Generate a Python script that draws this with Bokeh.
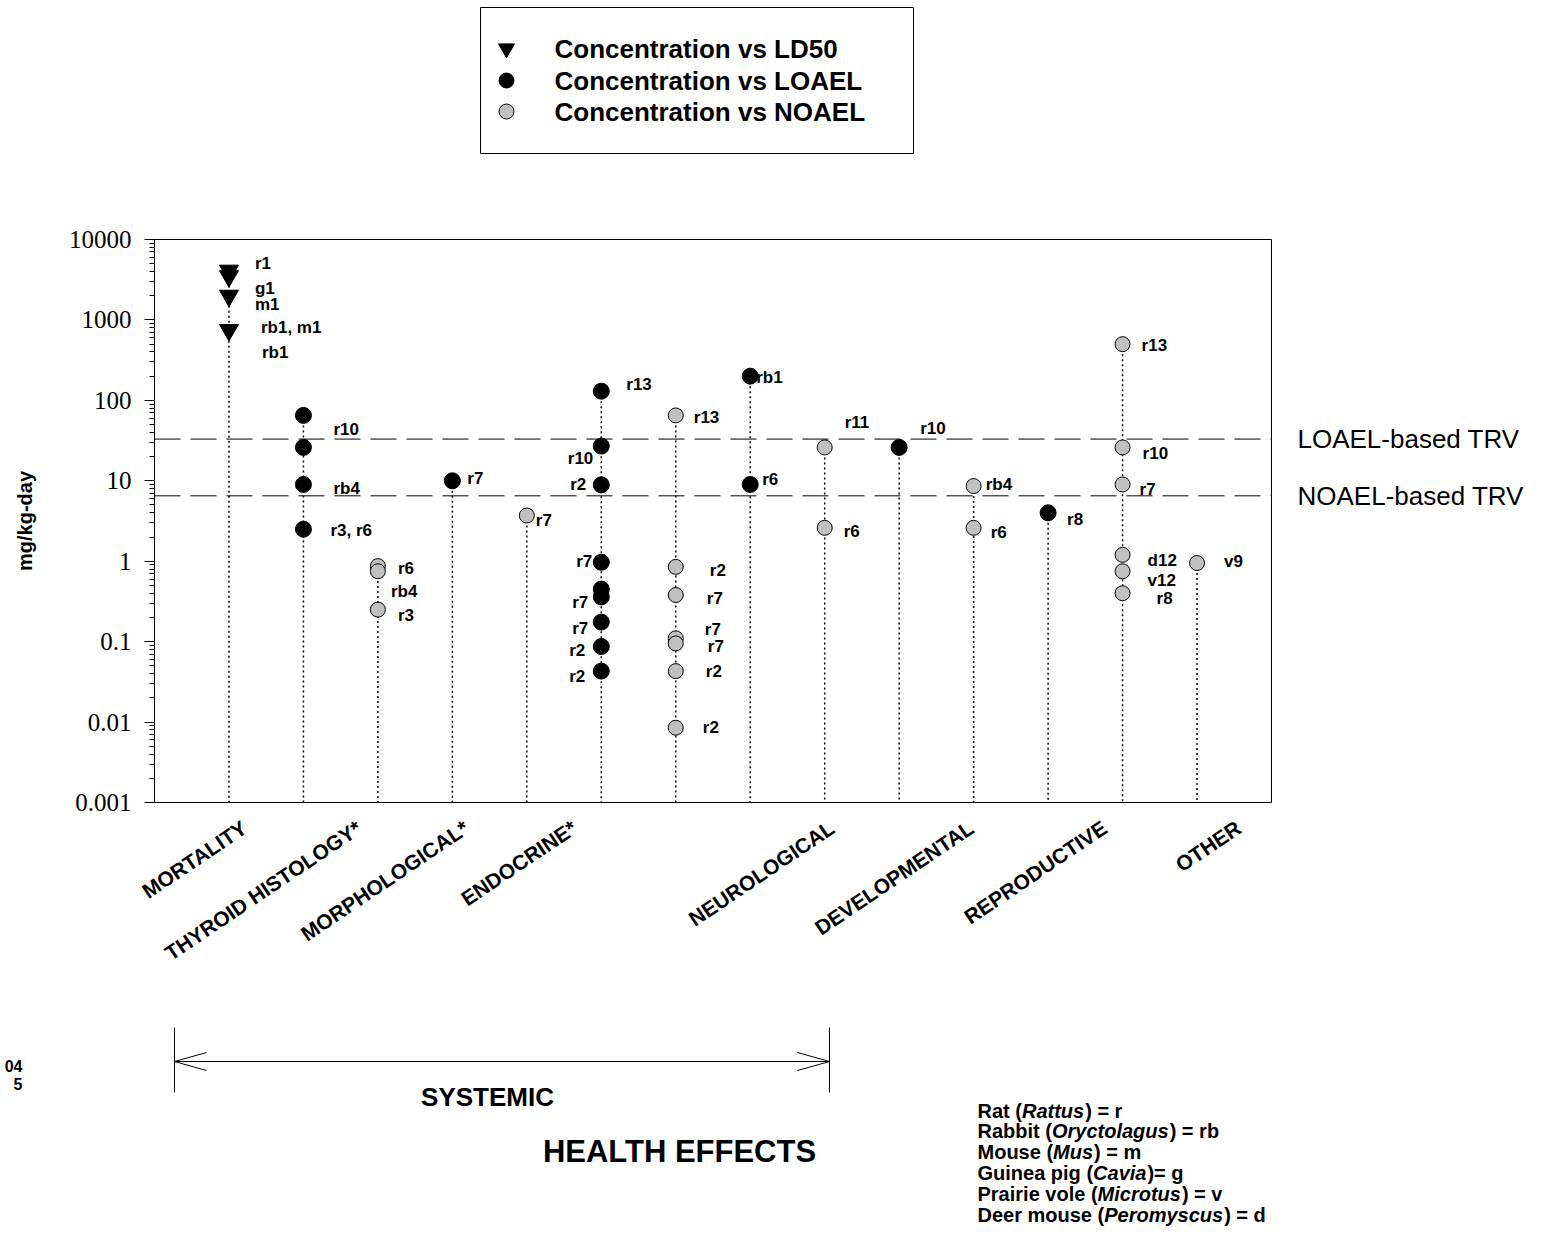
import math
from bokeh.plotting import figure
from bokeh.layouts import column
from bokeh.models import (Range1d, FixedTicker, Span, LinearAxis, ColumnDataSource)
from bokeh.core.properties import value
from bokeh.embed import file_html
from bokeh.resources import INLINE

# ------------------------------------------------------------------ data
effect_labels = ["MORTALITY", "THYROID HISTOLOGY*", "MORPHOLOGICAL*", "ENDOCRINE*",
                 "NEUROLOGICAL", "DEVELOPMENTAL", "REPRODUCTIVE", "OTHER"]
series_names = ["Concentration vs LD50", "Concentration vs LOAEL", "Concentration vs NOAEL"]

# Concentration vs LD50 (column 1 = mortality)
ld50_x = [1, 1, 1, 1]
ld50_y = [4100, 3500, 2000, 750]

# Concentration vs LOAEL
loael_x = [2, 2, 2, 2, 4, 6, 6, 6, 6, 6, 6, 6, 6, 6, 8, 8, 10, 12]
loael_y = [65, 26, 9, 2.5, 10, 130, 27, 8.9, 0.97, 0.45, 0.36, 0.175, 0.087, 0.043,
           200, 9, 26, 4]

# Concentration vs NOAEL
noael_x = [3, 3, 3, 5, 7, 7, 7, 7, 7, 7, 7, 9, 9, 11, 11, 13, 13, 13, 13, 13, 13, 14]
noael_y = [0.87, 0.75, 0.25, 3.7, 65, 0.85, 0.38, 0.11, 0.095, 0.043, 0.0085,
           26, 2.6, 8.6, 2.6, 500, 26, 9, 1.2, 0.75, 0.4, 0.95]

loael_trv = 33
noael_trv = 6.5
trv_labels = ["LOAEL-based TRV", "NOAEL-based TRV"]

y_ticks = [0.001, 0.01, 0.1, 1, 10, 100, 1000, 10000]
y_tick_labels = ["0.001", "0.01", "0.1", "1", "10", "100", "1000", "10000"]

# species codes shown next to the points
lab_text = ["r1", "g1", "m1", "rb1, m1", "rb1",
            "r10", "rb4", "r3, r6",
            "r6", "rb4", "r3",
            "r7", "r7",
            "r13", "r10", "r2", "r7", "r7", "r7", "r2", "r2",
            "r13", "r2", "r7", "r7", "r7", "r2", "r2",
            "rb1", "r6", "r11", "r6", "r10", "rb4", "r6", "r8",
            "r13", "r10", "r7", "d12", "v12", "r8", "v9"]
lab_col = [1] * 5 + [2] * 3 + [3] * 3 + [4, 5] + [6] * 8 + [7] * 7 + \
          [8, 8, 9, 9, 10, 11, 11, 12] + [13] * 6 + [14]

species_names = ["Rat", "Rabbit", "Mouse", "Guinea pig", "Prairie vole", "Deer mouse"]
species_genus = ["Rattus", "Oryctolagus", "Mus", "Cavia", "Microtus", "Peromyscus"]
species_codes = ["r", "rb", "m", "g", "v", "d"]
margin_notes = ["04", "5"]

# ------------------------------------------------------------------ layout
FONT = "Liberation Sans"
W = 1552
FL, FR, FT, FB = 154, 1271, 239, 802   # frame edges on the page
TOP_H = 200                            # header strip (legend)
MAIN_H = 802                           # main chart, page rows 200..1002
BOT_Y0 = TOP_H + MAIN_H
PAGE_H = 1239
X_START, X_END = 0, 15
Y_START, Y_END = 1e-3, 1e4
GRAY = "#c0c0c0"


def px_x(px):
    return X_START + (px - FL) / (FR - FL) * (X_END - X_START)


def px_y(py):
    lo, hi = math.log10(Y_START), math.log10(Y_END)
    return 10 ** (hi - (py - FT) / (FB - FT) * (hi - lo))


# label placement: page-pixel height of each code label and x offset from its column
lab_ypx = [263, 288, 304, 327, 352,
           429, 488, 530,
           568, 591, 615,
           478, 520,
           384, 458, 484, 561, 602, 628, 650, 676,
           417, 570, 598, 629, 646, 671, 727,
           377, 479, 422, 531, 428, 484, 532, 519,
           345, 453, 489, 560, 580, 598, 561]
lab_dx = [26, 26, 26, 32, 33,
          30, 30, 27,
          20, 13, 20,
          15, 9,
          25, -8, -15, -9, -13, -13, -16, -16,
          18, 34, 31, 29, 32, 30, 27,
          6, 12, 20, 19, 21, 12, 17, 19,
          19, 20, 17, 25, 25, 34, 27]
# where each rotated category name ends (page px)
cat_end_px = [244, 359, 466, 574, 832, 971, 1104, 1238]


def strip(height, y0):
    """A strip whose frame lines up with the chart and whose data units are page pixels."""
    f = figure(width=W, height=height, x_range=Range1d(FL, FR),
               y_range=Range1d(y0 + height, y0), output_backend="svg",
               toolbar_location=None, x_axis_location=None, y_axis_location=None,
               min_border_left=FL, min_border_right=W - FR,
               min_border_top=0, min_border_bottom=0)
    f.grid.visible = False
    f.outline_line_color = None
    f.background_fill_color = "white"
    f.border_fill_color = "white"
    return f


# ------------------------------------------------------------------ header / legend
top = strip(TOP_H, 0)
top.quad(left=[480], right=[913], top=[7], bottom=[153], fill_color=None,
         line_color="black", line_width=1)
leg_y = [48, 80, 111]
top.scatter([506], [leg_y[0]], marker="inverted_triangle", size=16,
            fill_color="black", line_color="black")
top.scatter([506], [leg_y[1]], marker="circle", size=15,
            fill_color="black", line_color="black")
top.scatter([506], [leg_y[2]], marker="circle", size=15,
            fill_color=GRAY, line_color="black", line_width=1)
top.text(x=[554] * 3, y=leg_y, text=series_names, text_baseline="middle",
         text_align="left", text_font=value(FONT), text_font_style="bold",
         text_font_size="26px", text_color="black")

# ------------------------------------------------------------------ main chart
p = figure(width=W, height=MAIN_H, y_axis_type="log",
           x_range=Range1d(X_START, X_END), y_range=Range1d(Y_START, Y_END),
           output_backend="svg", toolbar_location=None,
           min_border_left=FL, min_border_top=FT - TOP_H,
           min_border_right=W - FR, min_border_bottom=MAIN_H - (FB - TOP_H))
p.xgrid.visible = False
p.ygrid.visible = False
p.outline_line_color = "black"
p.outline_line_alpha = 1
p.outline_line_width = 1
p.background_fill_color = "white"
p.border_fill_color = "white"

# category names on the x axis, rotated
cat_ticks = [round(px_x(v), 2) for v in cat_end_px]
xax = p.xaxis[0]
xax.ticker = FixedTicker(ticks=cat_ticks, minor_ticks=[])
xax.major_label_overrides = {t: s for t, s in zip(cat_ticks, effect_labels)}
xax.major_label_orientation = math.radians(34)
xax.major_label_standoff = 23
xax.major_label_text_font = FONT
xax.major_label_text_font_style = "bold"
xax.major_label_text_font_size = "21px"
xax.major_label_text_color = "black"
xax.axis_line_color = None
xax.major_tick_line_color = None
xax.minor_tick_line_color = None
xax.major_tick_out = 0
xax.major_tick_in = 0

yax = p.yaxis[0]
minor = [m * 10.0 ** d for d in range(-3, 4) for m in range(2, 10)]
yax.ticker = FixedTicker(ticks=y_ticks, minor_ticks=minor)
yax.major_label_overrides = {t: s for t, s in zip(y_ticks, y_tick_labels)}
yax.major_label_text_font = "Liberation Serif"
yax.major_label_text_font_size = "25px"
yax.major_label_text_color = "black"
yax.major_tick_out = 10
yax.major_tick_in = 0
yax.minor_tick_out = 5
yax.minor_tick_in = 0
yax.major_label_standoff = 13
yax.axis_line_color = "black"
yax.major_tick_line_color = "black"
yax.minor_tick_line_color = "black"
yax.axis_label = "mg/kg-day"
yax.axis_label_text_font = FONT
yax.axis_label_text_font_style = "bold"
yax.axis_label_text_font_size = "20px"
yax.axis_label_text_color = "black"
yax.axis_label_standoff = 30

# TRV lines and their names on the right
for v in (loael_trv, noael_trv):
    p.add_layout(Span(location=v, dimension="width", line_color="black",
                      line_width=1, line_dash="26 10"))
rax = LinearAxis(ticker=FixedTicker(ticks=[loael_trv, noael_trv], minor_ticks=[]),
                 major_label_overrides={loael_trv: trv_labels[0], noael_trv: trv_labels[1]},
                 axis_line_color=None, major_tick_line_color=None,
                 minor_tick_line_color=None, major_tick_out=0, major_tick_in=0,
                 major_label_standoff=26, major_label_text_font=FONT,
                 major_label_text_font_size="26px", major_label_text_color="black")
p.add_layout(rax, "right")

# dotted drop lines from the highest value of each column down to the axis
tops = {}
for xs, ys in ((ld50_x, ld50_y), (loael_x, loael_y), (noael_x, noael_y)):
    for x, y in zip(xs, ys):
        tops[x] = max(tops.get(x, 0), y)
cols = sorted(tops)
p.segment(x0=cols, y0=[tops[c] for c in cols], x1=cols, y1=[Y_START] * len(cols),
          line_color="black", line_width=1.5, line_dash="2 3")

p.scatter(ld50_x, ld50_y, marker="inverted_triangle", size=19,
          fill_color="black", line_color="black")
p.scatter(loael_x, loael_y, marker="circle", size=16,
          fill_color="black", line_color="black")
p.scatter(noael_x, noael_y, marker="circle", size=15,
          fill_color=GRAY, line_color="black", line_width=1)

ld = {"x": [], "y": [], "t": [], "dx": []}
rd = {"x": [], "y": [], "t": [], "dx": []}
for t, c, ypx, dx in zip(lab_text, lab_col, lab_ypx, lab_dx):
    d = ld if dx >= 0 else rd
    d["x"].append(c)
    d["y"].append(px_y(ypx))
    d["t"].append(t)
    d["dx"].append(dx)
for d, align in ((ld, "left"), (rd, "right")):
    p.text(x="x", y="y", text="t", x_offset="dx", source=ColumnDataSource(d),
           text_align=align, text_baseline="middle",
           text_font=value(FONT), text_font_style="bold",
           text_font_size="17px", text_color="black")

# ------------------------------------------------------------------ footer
bot = strip(PAGE_H - BOT_Y0, BOT_Y0)

# margin note at the far left, shown through the strip's left axis
note_y = [1065, 1083]
lax = LinearAxis(ticker=FixedTicker(ticks=note_y, minor_ticks=[]),
                 major_label_overrides={k: s for k, s in zip(note_y, margin_notes)},
                 axis_line_color=None, major_tick_line_color=None,
                 minor_tick_line_color=None, major_tick_out=0, major_tick_in=0,
                 major_label_standoff=132, major_label_text_font=FONT,
                 major_label_text_font_style="bold",
                 major_label_text_font_size="16px", major_label_text_color="black")
bot.add_layout(lax, "left")

# SYSTEMIC bracket
bot.segment(x0=[174, 174, 829, 174, 174, 829, 829],
            y0=[1061, 1027, 1027, 1061, 1061, 1061, 1061],
            x1=[829, 174, 829, 206, 206, 797, 797],
            y1=[1061, 1092, 1092, 1052, 1070, 1052, 1070],
            line_color="black", line_width=1)
bot.text(x=[487], y=[1096], text=["SYSTEMIC"], text_align="center",
         text_baseline="middle", text_font=value(FONT), text_font_style="bold",
         text_font_size="26px", text_color="black")
bot.text(x=[679], y=[1151], text=["HEALTH EFFECTS"], text_align="center",
         text_baseline="middle", text_font=value(FONT), text_font_style="bold",
         text_font_size="31px", text_color="black")

# species key (bold text with italic genus names)
HB = {' ': 278, '(': 333, ')': 333, '=': 584, 'a': 556, 'b': 611, 'c': 556, 'd': 611,
      'e': 556, 'g': 611, 'i': 278, 'l': 278, 'm': 889, 'n': 611, 'o': 611, 'p': 611,
      'r': 389, 's': 556, 't': 333, 'u': 611, 'v': 556, 'y': 556, 'C': 722, 'D': 722,
      'G': 778, 'M': 833, 'O': 778, 'P': 667, 'R': 722}


def tw(s, size):
    return sum(HB.get(ch, 600) for ch in s) / 1000.0 * size


SP = 20
seg = {"normal": {"x": [], "y": [], "t": []}, "italic": {"x": [], "y": [], "t": []}}
for i, (nm, gn, cd) in enumerate(zip(species_names, species_genus, species_codes)):
    ypx = 1110 + 20.8 * i
    x = 977
    pre = nm + " ("
    post = (")= " if gn == "Cavia" else ") = ") + cd
    for part, kind in ((pre, "normal"), (gn, "italic"), (post, "normal")):
        seg[kind]["x"].append(x)
        seg[kind]["y"].append(ypx)
        seg[kind]["t"].append(part)
        x += tw(part, SP) + (1 if kind == "italic" else 0)
for kind, style in (("normal", "bold"), ("italic", "bold italic")):
    bot.text(x="x", y="y", text="t", source=ColumnDataSource(seg[kind]),
             text_align="left", text_baseline="middle", text_font=value(FONT),
             text_font_style=style, text_font_size=f"{SP}px", text_color="black")

layout = column(top, p, bot, spacing=0)
open("out.html", "w").write(file_html(layout, INLINE))
